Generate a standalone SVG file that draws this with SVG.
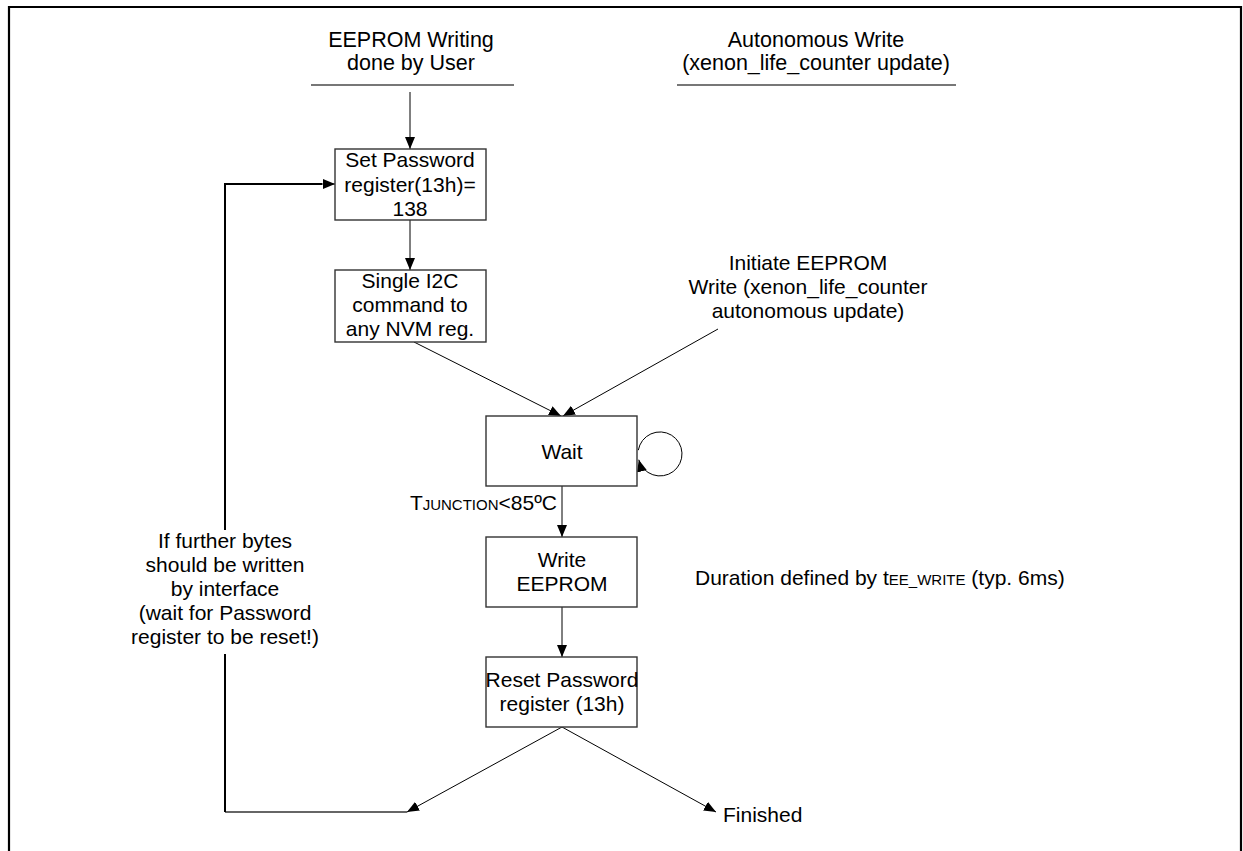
<svg xmlns="http://www.w3.org/2000/svg" width="1243" height="851" viewBox="0 0 1243 851">
<defs>
<style>
text{font-family:"Liberation Sans",Arial,sans-serif;font-size:21px;fill:#000}
.c{text-anchor:middle}
.h{font-size:21.5px}
.sc{font-size:15px}
.box{fill:#fff;stroke:#333;stroke-width:1.4}
.ln{fill:none;stroke:#000;stroke-width:1}
.thick{fill:none;stroke:#000;stroke-width:2}
.ul{stroke:#777;stroke-width:2}
</style>
<marker id="ah" markerUnits="userSpaceOnUse" markerWidth="12" markerHeight="10" refX="12" refY="5" orient="auto">
<path d="M0,0 L12,5 L0,10 z" fill="#000"/>
</marker>
</defs>
<rect width="1243" height="851" fill="#fff"/>
<g id="frame">
<path d="M9,851 V7 H1241 V851" fill="none" stroke="#000" stroke-width="2.2"/>
</g>
<g id="heading-user">
<text class="c h" x="411" y="47">EEPROM Writing</text>
<text class="c h" x="411" y="70">done by User</text>
<line class="ul" x1="311" y1="85" x2="514" y2="85"/>
</g>
<g id="heading-auto">
<text class="c h" x="816" y="47">Autonomous Write</text>
<text class="c h" x="816" y="70">(xenon_life_counter update)</text>
<line class="ul" x1="677" y1="85" x2="956" y2="85"/>
</g>
<g id="connectors">
<line class="ln" x1="410" y1="92" x2="410" y2="149" marker-end="url(#ah)"/>
<line class="ln" x1="410" y1="220" x2="410" y2="270" marker-end="url(#ah)"/>
<line class="ln" x1="414" y1="342" x2="561" y2="416" marker-end="url(#ah)"/>
<line class="ln" x1="718" y1="329" x2="563" y2="416" marker-end="url(#ah)"/>
<path class="ln" d="M638.3,450.2 A22,22 0 1 1 638.75,459.7" marker-end="url(#ah)"/>
<line class="ln" x1="562" y1="486" x2="562" y2="537" marker-end="url(#ah)"/>
<line class="ln" x1="562" y1="607" x2="562" y2="657" marker-end="url(#ah)"/>
<line class="ln" x1="562" y1="727" x2="407" y2="812" marker-end="url(#ah)"/>
<line class="ln" x1="562" y1="727" x2="716" y2="812" marker-end="url(#ah)"/>
<line x1="225" y1="812" x2="407" y2="812" stroke="#666" stroke-width="2"/>
<path class="thick" d="M225,812 V654"/>
<path class="thick" d="M225,530 V184 H322"/>
<line class="ln" x1="320" y1="184" x2="335" y2="184" marker-end="url(#ah)"/>
</g>
<g id="set-password">
<rect class="box" x="335" y="149" width="151" height="71"/>
<text class="c" x="410" y="167">Set Password</text>
<text class="c" x="410" y="192">register(13h)=</text>
<text class="c" x="410" y="216">138</text>
</g>
<g id="single-i2c">
<rect class="box" x="335" y="270" width="151" height="72"/>
<text class="c" x="410" y="288">Single I2C</text>
<text class="c" x="410" y="312">command to</text>
<text class="c" x="410" y="336">any NVM reg.</text>
</g>
<g id="initiate-label">
<text class="c" x="808" y="270">Initiate EEPROM</text>
<text class="c" x="808" y="294">Write (xenon_life_counter</text>
<text class="c" x="808" y="318">autonomous update)</text>
</g>
<g id="wait">
<rect class="box" x="486" y="416" width="151" height="70"/>
<text class="c" x="562" y="459">Wait</text>
</g>
<g id="tjunction-label">
<text x="557" y="510" text-anchor="end">T<tspan class="sc">JUNCTION</tspan>&lt;85ºC</text>
</g>
<g id="write-eeprom">
<rect class="box" x="486" y="537" width="151" height="70"/>
<text class="c" x="562" y="567">Write</text>
<text class="c" x="562" y="591">EEPROM</text>
</g>
<g id="duration-label">
<text x="695" y="585">Duration defined by t<tspan class="sc">EE_WRITE</tspan> (typ. 6ms)</text>
</g>
<g id="reset-password">
<rect class="box" x="486" y="657" width="151" height="70"/>
<text class="c" x="562" y="687">Reset Password</text>
<text class="c" x="562" y="711">register (13h)</text>
</g>
<g id="loop-label">
<text class="c" x="225" y="548">If further bytes</text>
<text class="c" x="225" y="572">should be written</text>
<text class="c" x="225" y="596">by interface</text>
<text class="c" x="225" y="620">(wait for Password</text>
<text class="c" x="225" y="644">register to be reset!)</text>
</g>
<g id="finished">
<text x="723" y="822">Finished</text>
</g>
</svg>
